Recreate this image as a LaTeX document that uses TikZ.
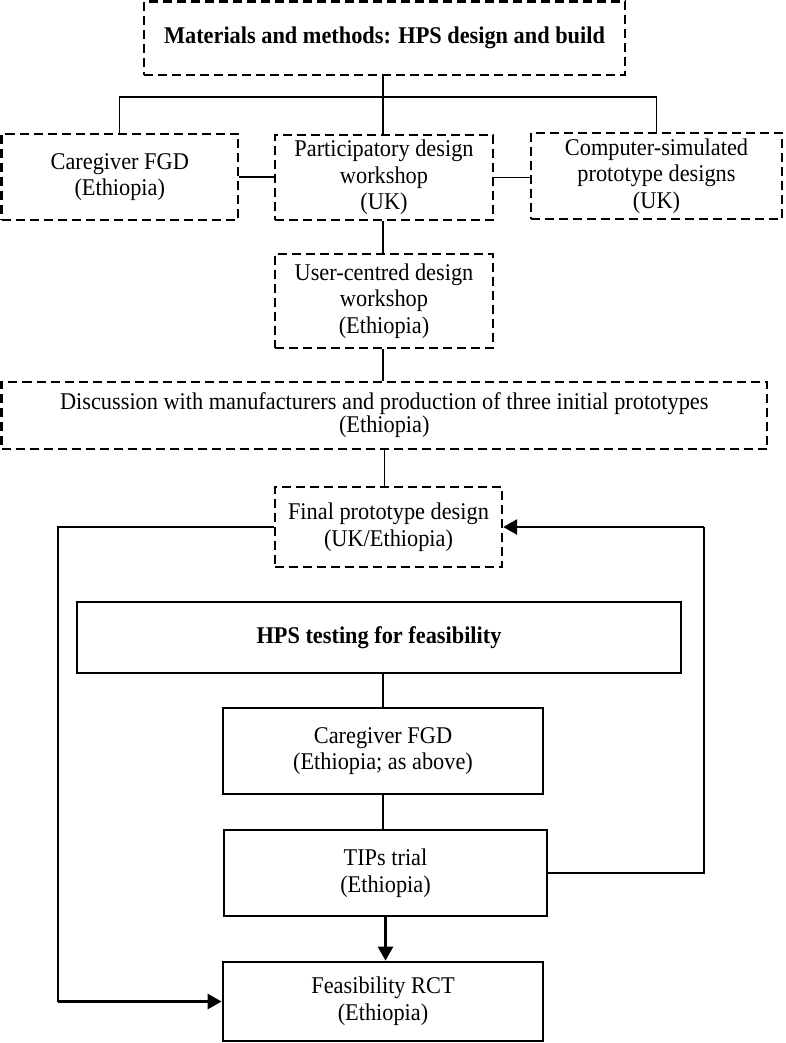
\documentclass[tikz,border=0pt]{standalone}
\usepackage{fontspec}
\setmainfont{Liberation Serif}[FakeStretch=0.93]
\usetikzlibrary{arrows.meta}

\begin{document}
\begin{tikzpicture}[x=0.5pt,y=-0.5pt,
                txt/.style = {align=center, inner sep=0pt, font=\fontsize{12}{13.3}\selectfont},
                dbox/.style = {txt, draw, line width=1.2pt, dash pattern=on 4.5pt off 2.5pt},
                sbox/.style = {txt, draw, line width=1.4pt},
                line/.style = {line width=0.6pt},
                arr/.style = {line width=1.4pt, -{Triangle[length=7pt,width=7.5pt]}}]
                \useasboundingbox (0,0) rectangle (786,1043);
                \node[dbox, minimum width=240.5pt, minimum height=36.75pt, font=\fontsize{12}{13.3}\selectfont\bfseries] (1) at (384.5,38.25) {Materials and methods: HPS design and build};
                \node[dbox, minimum width=118.25pt, minimum height=43pt] (2) at (119.75,177) {Caregiver FGD\\(Ethiopia)};
                \node[dbox, minimum width=109pt, minimum height=42.5pt] (3) at (384,177.5) {Participatory design\\workshop\\(UK)};
                \node[dbox, minimum width=125.5pt, minimum height=43pt] (4) at (656.5,176) {Computer-simulated\\prototype designs\\(UK)};
                \node[dbox, minimum width=109pt, minimum height=47pt] (5) at (384,301) {User-centred design\\workshop\\(Ethiopia)};
                \node[dbox, minimum width=382.75pt, minimum height=33.5pt, font=\fontsize{12}{11.5}\selectfont] (6) at (384.25,415.5) {Discussion with manufacturers and production of three initial prototypes\\(Ethiopia)};
                \node[dbox, minimum width=113.5pt, minimum height=40pt] (7) at (388.5,527) {Final prototype design\\(UK/Ethiopia)};
                \node[sbox, minimum width=302pt, minimum height=35.5pt, font=\fontsize{12}{13.3}\selectfont\bfseries] (8) at (379,637.5) {HPS testing for feasibility};
                \node[sbox, minimum width=160pt, minimum height=43pt] (9) at (383,751) {Caregiver FGD\\(Ethiopia; as above)};
                \node[sbox, minimum width=161.5pt, minimum height=43pt] (10) at (385.5,873) {TIPs trial\\(Ethiopia)};
                \node[sbox, minimum width=160pt, minimum height=39.5pt] (11) at (383,1001.5) {Feasibility RCT\\(Ethiopia)};
                \coordinate (bus) at (383,97);
                \coordinate (lft) at (58,0);
                \coordinate (rgt) at (704,0);
                \draw[line] (1.south -| bus) -- (bus);
                \draw[line] (2.north) |- (bus) -| (4.north);
                \draw[line] (bus) -- (bus |- 3.north);
                \draw[line] (2.east) -- (2.east -| 3.west);
                \draw[line] (3.east) -- (3.east -| 4.west);
                \draw[line] (3.south -| bus) -- (bus |- 5.north);
                \draw[line] (5.south -| bus) -- (bus |- 6.north);
                \draw[line] (6.south) -- (6.south |- 7.north);
                \draw[line] (9.north |- 8.south) -- (9.north);
                \draw[line] (9.south) -- (9.south |- 10.north);
                \draw[line] (7.west) -| (lft |- 11.west);
                \draw[arr] (lft |- 11.west) -- (11.west);
                \draw[line] (10.east) -| (rgt |- 7.east);
                \draw[arr] (rgt |- 7.east) -- (7.east);
                \draw[arr] (10.south) -- (10.south |- 11.north);
\end{tikzpicture}
\end{document}
